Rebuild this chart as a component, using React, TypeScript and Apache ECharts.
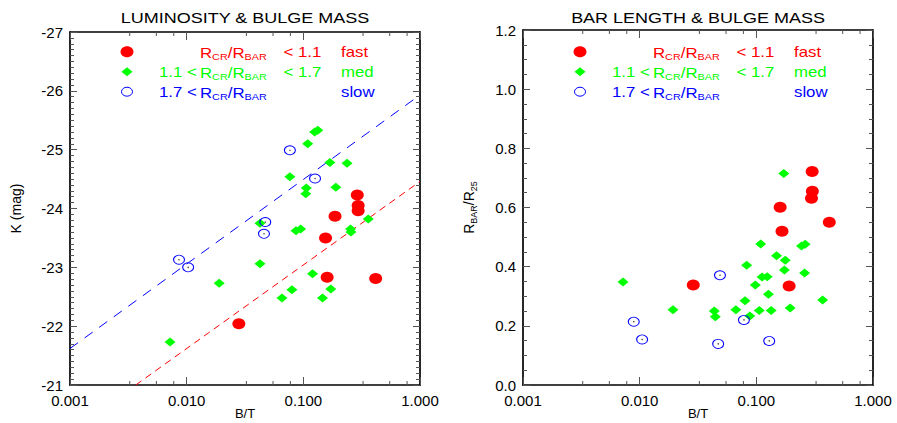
import React, { useEffect, useRef } from "react";
import * as echarts from "echarts";

const W = 897;
const H = 423;
const FONT = "'Liberation Sans', Arial, Helvetica, sans-serif";
const SX = 1.2; // horizontal stretch of the reference's lettering

const RED = "#ff0000";
const GREEN = "#00ff00";
const BLUE = "#0000ff";

// ---------- Left panel: B/T vs K (mag) ----------
const lumFast: number[][] = [
  [0.29, -24.23], [0.295, -24.05], [0.295, -23.96], [0.187, -23.87],
  [0.155, -23.5], [0.028, -22.04], [0.16, -22.83], [0.417, -22.81],
];
const lumMed: number[][] = [
  [0.125, -25.3], [0.133, -25.33], [0.109, -25.1], [0.169, -24.78],
  [0.237, -24.77], [0.0767, -24.54], [0.106, -24.35], [0.105, -24.25],
  [0.19, -24.36], [0.0425, -23.75], [0.0865, -23.62], [0.0948, -23.65],
  [0.254, -23.65], [0.256, -23.6], [0.36, -23.82], [0.0425, -23.06],
  [0.019, -22.73], [0.12, -22.89], [0.0798, -22.62], [0.0656, -22.48],
  [0.146, -22.48], [0.172, -22.63], [0.0072, -21.73],
];
const lumSlow: number[][] = [
  [0.0767, -24.99], [0.126, -24.51], [0.0472, -23.77], [0.046, -23.57],
  [0.0086, -23.13], [0.0103, -23.0],
];
const lumFitSlow: number[][] = [[0.001, -21.62], [1, -25.93]];
const lumFitFast: number[][] = [[0.00366, -21.0], [1, -24.46]];

// ---------- Right panel: B/T vs R_BAR/R_25 ----------
const barFast: number[][] = [
  [0.301, 0.722], [0.302, 0.655], [0.297, 0.631], [0.16, 0.601],
  [0.422, 0.55], [0.166, 0.52], [0.0288, 0.338], [0.191, 0.335],
];
const barMed: number[][] = [
  [0.172, 0.715], [0.109, 0.477], [0.244, 0.47], [0.262, 0.476],
  [0.149, 0.437], [0.177, 0.422], [0.0826, 0.405], [0.174, 0.389],
  [0.259, 0.379], [0.0072, 0.348], [0.112, 0.365], [0.124, 0.366],
  [0.098, 0.338], [0.127, 0.307], [0.08, 0.285], [0.37, 0.287],
  [0.0193, 0.254], [0.0436, 0.25], [0.0445, 0.231], [0.0668, 0.254],
  [0.106, 0.252], [0.134, 0.252], [0.195, 0.26], [0.088, 0.233],
];
const barSlow: number[][] = [
  [0.0488, 0.371], [0.0089, 0.214], [0.0105, 0.154], [0.0783, 0.22],
  [0.0471, 0.139], [0.129, 0.149],
];

// ---------- Axis / text content ----------
const titles = ["LUMINOSITY & BULGE MASS", "BAR LENGTH & BULGE MASS"];
const xName = "B/T";
const yNames = ["K (mag)", "R{s|BAR}/R{s|25}"];
const minorXTicks = [0.00325, 0.0055, 0.00775, 0.0325, 0.055, 0.0775, 0.325, 0.55, 0.775];
const legendLow = ["", "1.1 <", "1.7 <"];
const legendRatio = "R{s|CR}/R{s|BAR}";
const legendHigh = ["< 1.1", "< 1.7", ""];
const legendSpeed = ["fast", "med", "slow"];
const legendColors = [RED, GREEN, BLUE];

// layout
const gridLeft = [70, 523];
const gridWidth = 350;
const gridTop = [32, 30];
const gridBottom = 38;
const legendRows = [51.7, 71.7, 91.7];

const TICK_COLOR = "#555";

function legendGraphics(gx: number) {
  const els: any[] = [];
  const rich = { s: { fontSize: 9, fontFamily: FONT, verticalAlign: "bottom", lineHeight: 18 } };
  legendRows.forEach((y, i) => {
    const mx = gx + 57;
    if (i === 0) {
      els.push({ type: "ellipse", shape: { cx: mx, cy: y, rx: 6.5, ry: 5.5 }, style: { fill: RED }, silent: true });
    } else if (i === 1) {
      els.push({
        type: "polygon",
        shape: { points: [[mx - 5.5, y], [mx, y - 4.5], [mx + 5.5, y], [mx, y + 4.5]] },
        style: { fill: GREEN },
        silent: true,
      });
    } else {
      els.push({
        type: "ellipse",
        shape: { cx: mx, cy: y, rx: 5.5, ry: 4.5 },
        style: { fill: "none", stroke: BLUE, lineWidth: 1 },
        silent: true,
      });
    }
    const base = { fill: legendColors[i], fontSize: 14, fontFamily: FONT, verticalAlign: "middle" };
    if (legendLow[i]) {
      els.push({ type: "text", x: gx + 89, y, scaleX: SX, style: { ...base, text: legendLow[i] }, silent: true });
    }
    els.push({
      type: "text",
      x: gx + 130,
      y: y + 1,
      scaleX: SX,
      style: { ...base, text: legendRatio, lineHeight: 18, rich },
      silent: true,
    });
    if (legendHigh[i]) {
      els.push({ type: "text", x: gx + 213.5, y, scaleX: SX, style: { ...base, text: legendHigh[i] }, silent: true });
    }
    els.push({ type: "text", x: gx + 271, y, scaleX: SX, style: { ...base, text: legendSpeed[i] }, silent: true });
  });
  return els;
}

function titleGraphics() {
  return titles.map((t, i) => ({
    type: "text",
    x: gridLeft[i] + gridWidth / 2,
    y: 18.5,
    scaleX: SX,
    silent: true,
    style: { text: t, fill: "#000", fontSize: 15, fontFamily: FONT, align: "center", verticalAlign: "middle" },
  }));
}

function minorTickSeries(idx: number, yRef: number) {
  return {
    type: "custom",
    xAxisIndex: idx * 2,
    yAxisIndex: idx * 2,
    silent: true,
    clip: false,
    z: 10,
    data: minorXTicks.map((v) => [v, yRef]),
    renderItem: (params: any, api: any) => {
      const px = api.coord([api.value(0), api.value(1)])[0];
      const cs = params.coordSys;
      const style = { stroke: TICK_COLOR, lineWidth: 1 };
      return {
        type: "group",
        children: [
          { type: "line", shape: { x1: px, y1: cs.y + cs.height, x2: px, y2: cs.y + cs.height - 4 }, style },
          { type: "line", shape: { x1: px, y1: cs.y, x2: px, y2: cs.y + 4 }, style },
        ],
      };
    },
  };
}

function xAxes(idx: number) {
  const common = {
    gridIndex: idx,
    type: "log",
    logBase: 10,
    min: 0.001,
    max: 1,
    splitLine: { show: false },
    axisLine: { show: true, onZero: false, lineStyle: { color: "#000", width: 1.7 } },
    axisTick: { show: true, inside: true, length: 8, lineStyle: { color: TICK_COLOR } },
  };
  return [
    {
      ...common,
      position: "bottom",
      axisLabel: { formatter: (v: number) => v.toFixed(3), fontSize: 15, color: "#000", fontFamily: FONT, margin: 8 },
      name: xName,
      nameLocation: "middle",
      nameGap: 21,
      nameMoveOverlap: false,
      nameTextStyle: { fontSize: 13, color: "#000", fontFamily: FONT, lineHeight: 15 },
    },
    { ...common, position: "top", axisLabel: { show: false } },
  ];
}

function yAxes(idx: number) {
  const isLeft = idx === 0;
  const common = {
    gridIndex: idx,
    type: "value",
    min: isLeft ? -27 : 0,
    max: isLeft ? -21 : 1.2,
    interval: isLeft ? 1 : 0.2,
    inverse: isLeft,
    splitLine: { show: false },
    axisLine: { show: true, onZero: false, lineStyle: { color: "#000", width: 1.7 } },
    axisTick: { show: true, inside: true, length: 7, lineStyle: { color: TICK_COLOR } },
    minorTick: { show: true, splitNumber: isLeft ? 10 : 4, length: 4, lineStyle: { color: TICK_COLOR } },
    minorSplitLine: { show: false },
  };
  return [
    {
      ...common,
      position: "left",
      axisLabel: {
        fontSize: 15,
        color: "#000",
        fontFamily: FONT,
        margin: 7,
        formatter: (v: number) => (isLeft ? String(Math.round(v)) : v.toFixed(1)),
      },
      name: yNames[idx],
      nameLocation: "middle",
      nameGap: 45,
      nameRotate: 90,
      nameTextStyle: {
        fontSize: 14,
        color: "#000",
        fontFamily: FONT,
        rich: { s: { fontSize: 9, fontFamily: FONT, color: "#000", verticalAlign: "bottom", lineHeight: 18 } },
        lineHeight: 18,
      },
    },
    { ...common, position: "right", axisLabel: { show: false } },
  ];
}

function scatterSeries(idx: number, fast: number[][], med: number[][], slow: number[][]) {
  const ax = { xAxisIndex: idx * 2, yAxisIndex: idx * 2 };
  return [
    { type: "scatter", ...ax, data: med, symbol: "diamond", symbolSize: [11, 9], itemStyle: { color: GREEN, opacity: 1 }, z: 3 },
    {
      type: "scatter",
      ...ax,
      data: slow,
      symbol: "circle",
      symbolSize: [11, 9],
      itemStyle: { color: "rgba(255,255,255,0)", borderColor: BLUE, borderWidth: 1, opacity: 1 },
      z: 4,
    },
    { type: "scatter", ...ax, data: slow, symbol: "circle", symbolSize: 1.4, itemStyle: { color: "#333", opacity: 1 }, z: 4 },
    { type: "scatter", ...ax, data: fast, symbol: "circle", symbolSize: [13, 11], itemStyle: { color: RED, opacity: 1 }, z: 5 },
  ];
}

export default function App() {
  const ref = useRef<HTMLDivElement>(null);

  useEffect(() => {
    if (!ref.current) return;
    const chart = echarts.init(ref.current, null, { renderer: "svg" });
    const grids = [0, 1].map((i) => ({
      left: gridLeft[i],
      width: gridWidth,
      top: gridTop[i],
      bottom: gridBottom,
      containLabel: false,
      outerBoundsMode: "none",
    }));
    const option: any = {
      animation: false,
      backgroundColor: "#fff",
      grid: grids,
      xAxis: [...xAxes(0), ...xAxes(1)],
      yAxis: [...yAxes(0), ...yAxes(1)],
      series: [
        { type: "line", xAxisIndex: 0, yAxisIndex: 0, data: lumFitSlow, symbol: "none", lineStyle: { color: BLUE, width: 1, type: [10, 8] }, z: 2 },
        { type: "line", xAxisIndex: 0, yAxisIndex: 0, data: lumFitFast, symbol: "none", lineStyle: { color: RED, width: 1, type: [7, 5] }, z: 2 },
        ...scatterSeries(0, lumFast, lumMed, lumSlow),
        ...scatterSeries(1, barFast, barMed, barSlow),
        minorTickSeries(0, -24),
        minorTickSeries(1, 0.6),
      ],
      graphic: [...titleGraphics(), ...legendGraphics(gridLeft[0]), ...legendGraphics(gridLeft[1])],
    };
    chart.setOption(option);
    return () => chart.dispose();
  }, []);

  return <div ref={ref} style={{ position: "absolute", left: 0, top: 0, width: W, height: H, background: "#fff" }} />;
}
